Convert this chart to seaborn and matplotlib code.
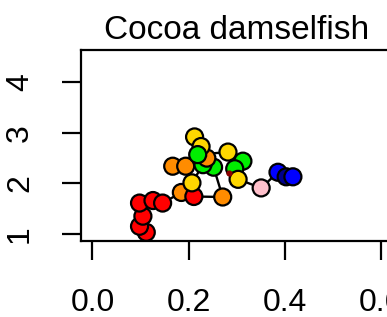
import numpy as np
import pandas as pd
import matplotlib
matplotlib.use("Agg")
import matplotlib.pyplot as plt
import seaborn as sns

# trajectory values (in path order)
x_vals = [0.112, 0.098, 0.105, 0.098, 0.126, 0.146, 0.185, 0.211, 0.271,
          0.252, 0.167, 0.194, 0.207, 0.230, 0.238, 0.2125, 0.226, 0.219,
          0.282, 0.313, 0.296, 0.303, 0.351, 0.386, 0.403, 0.417]
y_vals = [1.03, 1.15, 1.35, 1.61, 1.66, 1.61, 1.82, 1.74, 1.73,
          2.32, 2.34, 2.34, 2.01, 2.37, 2.50, 2.92, 2.73, 2.57,
          2.62, 2.44, 2.29, 2.08, 1.91, 2.22, 2.13, 2.13]
groups = ["red", "red", "red", "red", "red", "red", "orange", "red", "orange",
          "green", "orange", "orange", "yellow", "green", "orange", "yellow", "yellow", "green",
          "yellow", "green", "green", "yellow", "pink", "blue", "navy", "blue"]
centre = (0.284, 2.20)

palette = {"red": "#FF0000", "orange": "#FF8C00", "yellow": "#FFD700",
           "green": "#00EE00", "pink": "#FFC0CB", "blue": "#0000FF", "navy": "#00008B"}

df = pd.DataFrame({"x": x_vals, "y": y_vals, "grp": groups})

sns.set_style("white")
plt.rcParams["font.family"] = ["Liberation Sans", "DejaVu Sans"]

fig = plt.figure(figsize=(3.87, 3.17), dpi=100)
ax = fig.add_axes([0.209, 0.240, 0.805, 0.602])

sns.lineplot(data=df, x="x", y="y", sort=False, color="black", lw=1.7,
             estimator=None, ax=ax, zorder=1)
sns.scatterplot(data=df, x="x", y="y", hue="grp", palette=palette, s=150,
                edgecolor="black", linewidth=1.6, legend=False, ax=ax, zorder=2)
ax.scatter([centre[0]], [centre[1]], s=12, color="#8B0000", zorder=3)

ax.set_xlim(-0.024, 0.624)
ax.set_ylim(0.86, 4.64)
ax.set_xticks([0.0, 0.2, 0.4, 0.6])
ax.set_xticklabels(["0.0", "0.2", "0.4", "0.6"])
ax.set_yticks([1, 2, 3, 4])
ax.set_yticklabels(["1", "2", "3", "4"], rotation=90, va="center")
ax.set_xlabel("")
ax.set_ylabel("")
ax.set_title("Cocoa damselfish", fontsize=24, pad=8, color="black")

for s in ax.spines.values():
    s.set_color("black")
    s.set_linewidth(1.6)
ax.tick_params(axis="x", direction="out", length=14, width=1.6, pad=20,
               labelsize=23, colors="black", bottom=True)
ax.tick_params(axis="y", direction="out", length=14, width=1.6, pad=19,
               labelsize=23, colors="black", left=True)

fig.savefig("out.png", dpi=100)
